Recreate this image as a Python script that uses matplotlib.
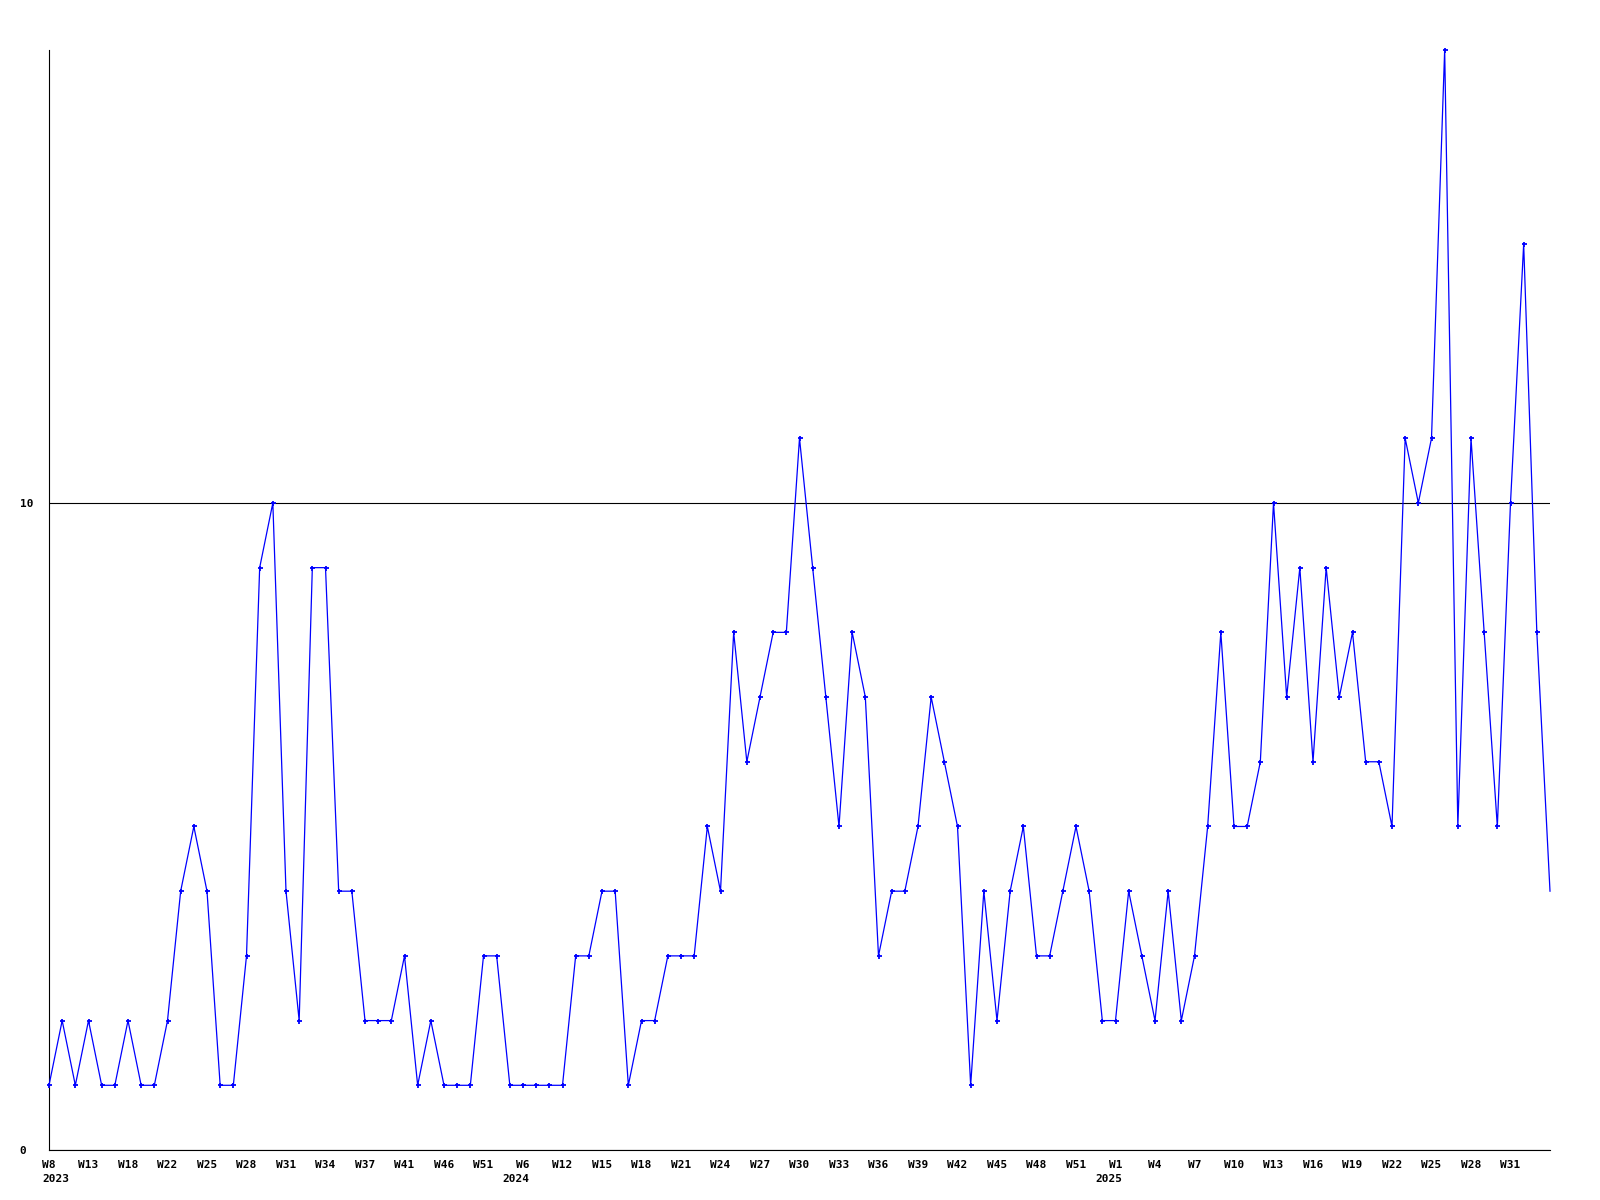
import numpy as np
import matplotlib
matplotlib.use('Agg')
import matplotlib.pyplot as plt

# weekly counts, weeks with no entries are left out
values = [1, 2, 1, 2, 1, 1, 2, 1, 1, 2,
          4, 5, 4, 1, 1, 3, 9, 10, 4, 2,
          9, 9, 4, 4, 2, 2, 2, 3, 1, 2,
          1, 1, 1, 3, 3, 1, 1, 1, 1, 1,
          3, 3, 4, 4, 1, 2, 2, 3, 3, 3,
          5, 4, 8, 6, 7, 8, 8, 11, 9, 7,
          5, 8, 7, 3, 4, 4, 5, 7, 6, 5,
          1, 4, 2, 4, 5, 3, 3, 4, 5, 4,
          2, 2, 4, 3, 2, 4, 2, 3, 5, 8,
          5, 5, 6, 10, 7, 9, 6, 9, 7, 8,
          6, 6, 5, 11, 10, 11, 17, 5, 11, 8,
          5, 10, 14, 8, 4]
week_labels = ['W8', 'W13', 'W18', 'W22', 'W25', 'W28', 'W31', 'W34', 'W37', 'W41',
               'W46', 'W51', 'W6', 'W12', 'W15', 'W18', 'W21', 'W24', 'W27', 'W30',
               'W33', 'W36', 'W39', 'W42', 'W45', 'W48', 'W51', 'W1', 'W4', 'W7',
               'W10', 'W13', 'W16', 'W19', 'W22', 'W25', 'W28', 'W31']
year_labels = ['2023', '2024', '2025']
year_pos = [0, 36, 81]

fnt = dict(fontfamily='DejaVu Sans Mono', fontweight='bold', fontsize=8)

fig = plt.figure(figsize=(16, 12), dpi=100)
ax = fig.add_axes([49/1600, 50/1200, 1501/1600, 1100/1200])

x = np.arange(len(values))
ax.plot(x, values, color='#0000ff', lw=0.9, marker='+', ms=3.6, mew=1.3,
        markevery=list(range(len(values)-1)), clip_on=False, zorder=3)

ax.set_xlim(0, len(values)-1)
ax.set_ylim(0, 17)

ax.set_xticks(x[:len(week_labels)*3:3])
ax.set_xticklabels(week_labels, **fnt)
ax.tick_params(axis='x', length=0, pad=7)

ax.set_yticks([0, 10])
ax.set_yticklabels(['0', '10'], **fnt)
ax.tick_params(axis='y', length=0, pad=21)
for lab in ax.get_yticklabels():
    lab.set_ha('left')

ax.yaxis.grid(True, color='black', lw=0.8)

for s in ['top', 'right']:
    ax.spines[s].set_visible(False)
for s in ['left', 'bottom']:
    ax.spines[s].set_color('black')
    ax.spines[s].set_linewidth(0.8)

# year under the first labelled week of each year
cw = 0.602*8
for yr, i in zip(year_labels, year_pos):
    half = len(week_labels[i//3])*cw/2
    if i == 0:
        dx, ha = -half, 'left'
    else:
        dx, ha = half, 'right'
    ax.annotate(yr, xy=(i, 0), xycoords=('data', 'axes fraction'),
                xytext=(dx, -21), textcoords='offset points',
                ha=ha, va='center', annotation_clip=False, **fnt)

fig.savefig('out.png', dpi=100, facecolor='white')
